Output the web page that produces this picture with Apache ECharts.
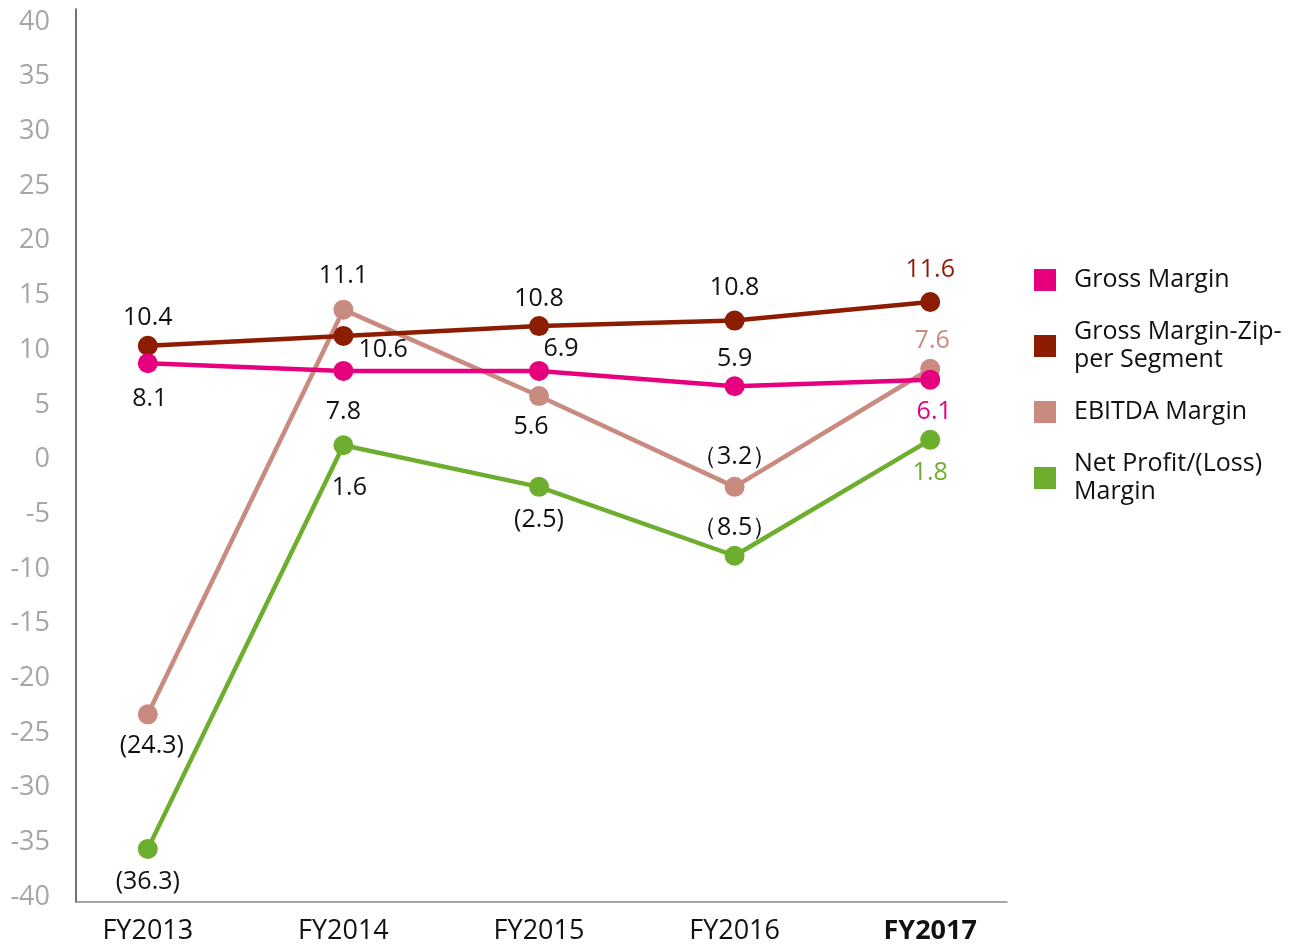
<!DOCTYPE html>
<html>
<head>
<meta charset="utf-8">
<style>
  html, body { margin: 0; padding: 0; background: #fff; }
  #chart { width: 1308px; height: 946px; }
</style>
<script src="https://cdn.jsdelivr.net/npm/echarts@6/dist/echarts.min.js"></script>
</head>
<body>
<div id="chart"></div>
<script>
const categories = ['FY2013', 'FY2014', 'FY2015', 'FY2016', 'FY2017'];

// plotted values
const grossMargin = [8.8, 8.1, 8.1, 6.7, 7.3];
const zipperMargin = [10.4, 11.3, 12.2, 12.7, 14.4];
const ebitdaMargin = [-23.3, 13.7, 5.8, -2.5, 8.3];
const netMargin = [-35.6, 1.3, -2.5, -8.8, 1.8];

// printed labels
const grossLabels = ['8.1', '7.8', '6.9', '5.9', '6.1'];
const zipperLabels = ['10.4', '10.6', '10.8', '10.8', '11.6'];
const ebitdaLabels = ['(24.3)', '11.1', '5.6', '（3.2）', '7.6'];
const netLabels = ['(36.3)', '1.6', '(2.5)', '（8.5）', '1.8'];

const yTicks = { min: -40, max: 40, interval: 5 };

// label placement per point
const grossPlace = [['bottom', [2, 8]], ['bottom', [0, 13]], ['top', [22, 5]], ['top', [0, 0]], ['bottom', [4, 5]]];
const zipperPlace = [['top', [0, 0]], ['right', [0, 14]], ['top', [0, 0]], ['top', [0, -5]], ['top', [0, -5]]];
const ebitdaPlace = [['bottom', [4, 4]], ['top', [0, -6]], ['bottom', [-8, 3]], ['top', [0, -2]], ['top', [2, 0]]];
const netPlace = [['bottom', [0, 5]], ['bottom', [6, 15]], ['bottom', [0, 6]], ['top', [0, 0]], ['bottom', [0, 6]]];

const FONT = '"Open Sans", sans-serif';

function makeSeries(name, values, labels, place, color) {
  return {
    name: name,
    type: 'line',
    xAxisIndex: 0,
    yAxisIndex: 0,
    symbol: 'circle',
    symbolSize: 20,
    lineStyle: { width: 4.5, color: color },
    itemStyle: { color: color },
    data: values.map((v, i) => ({
      value: v,
      label: {
        show: true,
        formatter: labels[i],
        position: place[i][0],
        offset: place[i][1],
        color: i === values.length - 1 ? color : '#111',
        fontSize: 25,
        fontFamily: FONT
      }
    }))
  };
}

const chart = echarts.init(document.getElementById('chart'));

chart.setOption({
  animation: false,
  backgroundColor: '#fff',
  grid: [
    { left: 50, right: 280, top: 22, bottom: 49 },
    { left: 76, right: 301, top: 9, bottom: 44 }
  ],
  legend: {
    orient: 'vertical',
    left: 1029,
    top: 261,
    icon: 'rect',
    itemWidth: 22,
    itemHeight: 22,
    itemGap: 24,
    data: ['Gross Margin', 'Gross Margin-Zip-\nper Segment', 'EBITDA Margin', 'Net Profit/(Loss)\nMargin'],
    textStyle: { fontSize: 25, lineHeight: 28, color: '#111', fontFamily: FONT, padding: [0, 0, 0, 13] }
  },
  xAxis: [
    {
      type: 'category',
      gridIndex: 0,
      data: categories,
      boundaryGap: true,
      axisLine: { show: false },
      axisTick: { show: false },
      axisLabel: {
        margin: 21,
        fontSize: 27,
        color: '#111',
        fontFamily: FONT,
        formatter: (v, i) => i === categories.length - 1 ? '{b|' + v + '}' : v,
        rich: { b: { fontSize: 27, fontWeight: 'bold', color: '#111', fontFamily: FONT } }
      }
    },
    {
      type: 'value',
      gridIndex: 1,
      min: 0,
      max: 1,
      axisLine: { show: true, lineStyle: { color: '#8a8a8a', width: 1.5 } },
      axisTick: { show: false },
      axisLabel: { show: false },
      splitLine: { show: false }
    }
  ],
  yAxis: [
    {
      type: 'value',
      gridIndex: 0,
      min: yTicks.min,
      max: yTicks.max,
      interval: yTicks.interval,
      axisLine: { show: false },
      axisTick: { show: false },
      splitLine: { show: false },
      axisLabel: { margin: 0, fontSize: 27, color: '#a6a6a6', fontFamily: FONT }
    },
    {
      type: 'value',
      gridIndex: 1,
      min: 0,
      max: 1,
      axisLine: { show: true, lineStyle: { color: '#444', width: 1.5 } },
      axisTick: { show: false },
      axisLabel: { show: false },
      splitLine: { show: false }
    }
  ],
  series: [
    makeSeries('EBITDA Margin', ebitdaMargin, ebitdaLabels, ebitdaPlace, '#c98b80'),
    makeSeries('Net Profit/(Loss)\nMargin', netMargin, netLabels, netPlace, '#6eae2e'),
    makeSeries('Gross Margin-Zip-\nper Segment', zipperMargin, zipperLabels, zipperPlace, '#8c1c02'),
    makeSeries('Gross Margin', grossMargin, grossLabels, grossPlace, '#e6007e')
  ]
});

window.addEventListener('resize', () => chart.resize());
</script>
</body>
</html>
